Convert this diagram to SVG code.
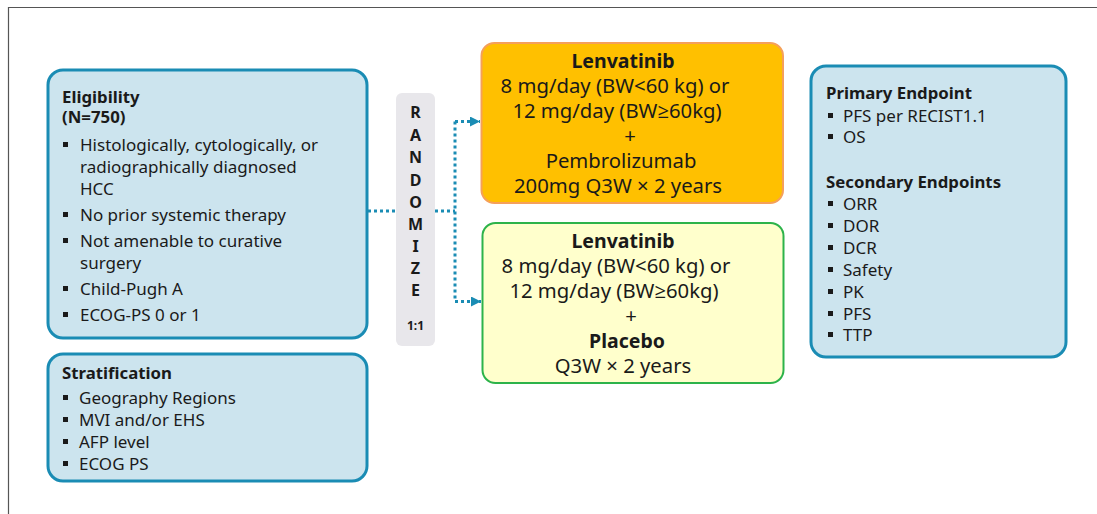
<svg xmlns="http://www.w3.org/2000/svg" width="1097" height="514" viewBox="0 0 1097 514">
<style>
text{font-family:"Noto Sans","Open Sans","Liberation Sans",sans-serif;fill:#1a1a1a}
.blue{fill:#cce4ee;stroke:#1a8cb4;stroke-width:3}
.t{font-size:16.8px;font-weight:bold}
.b{font-size:17px}
.c{font-size:20.3px;text-anchor:middle}
.cb{font-size:19.5px;font-weight:bold;text-anchor:middle}
.r{font-size:16px;font-weight:bold;text-anchor:middle}
.dot{fill:none;stroke:#1a8cb4;stroke-width:3;stroke-dasharray:3 3}
.sq{fill:#1a1a1a}
</style>
<defs>
<marker id="ah" viewBox="0 0 10 10" refX="10" refY="5" markerWidth="10" markerHeight="10" markerUnits="userSpaceOnUse" orient="auto">
<path d="M0,0 L10,5 L0,10 Z" fill="#1a8cb4"/>
</marker>
<g id="bul"><rect x="0" y="-9" width="5" height="5" class="sq"/></g>
</defs>
<rect width="1097" height="514" fill="#fff"/>
<path d="M8.5,514 V7.5 H1097" fill="none" stroke="#555" stroke-width="1.2"/>

<g id="connectors">
<path class="dot" d="M368,211 H396"/>
<path class="dot" d="M435,211 H455"/>
<path class="dot" d="M455,121.5 V301.5"/>
<path class="dot" d="M455,121.5 H480" marker-end="url(#ah)"/>
<path class="dot" d="M455,301.5 H481" marker-end="url(#ah)"/>
</g>

<g id="eligibility">
<rect class="blue" x="48" y="70" width="319" height="268" rx="15"/>
<text class="t" x="62" y="103">Eligibility</text>
<text class="t" x="62" y="123">(N=750)</text>
<use href="#bul" x="63" y="151"/><text class="b" x="80" y="151">Histologically, cytologically, or</text>
<text class="b" x="80" y="173">radiographically diagnosed</text>
<text class="b" x="80" y="195">HCC</text>
<use href="#bul" x="63" y="221"/><text class="b" x="80" y="221">No prior systemic therapy</text>
<use href="#bul" x="63" y="247"/><text class="b" x="80" y="247">Not amenable to curative</text>
<text class="b" x="80" y="269">surgery</text>
<use href="#bul" x="63" y="295"/><text class="b" x="80" y="295">Child-Pugh A</text>
<use href="#bul" x="63" y="321"/><text class="b" x="80" y="321">ECOG-PS 0 or 1</text>
</g>

<g id="stratification">
<rect class="blue" x="48" y="354" width="319" height="127" rx="15"/>
<text class="t" x="62" y="379">Stratification</text>
<use href="#bul" x="63" y="404"/><text class="b" x="79" y="404">Geography Regions</text>
<use href="#bul" x="63" y="426"/><text class="b" x="79" y="426">MVI and/or EHS</text>
<use href="#bul" x="63" y="448"/><text class="b" x="79" y="448">AFP level</text>
<use href="#bul" x="63" y="470"/><text class="b" x="79" y="470">ECOG PS</text>
</g>

<g id="randomize">
<rect x="396" y="93" width="39" height="253" rx="6" fill="#e8e7eb"/>
<text class="r" x="415.5" y="118">R</text>
<text class="r" x="415.5" y="141">A</text>
<text class="r" x="415.5" y="163">N</text>
<text class="r" x="415.5" y="186">D</text>
<text class="r" x="415.5" y="208">O</text>
<text class="r" x="415.5" y="230">M</text>
<text class="r" x="415.5" y="252">I</text>
<text class="r" x="415.5" y="274">Z</text>
<text class="r" x="415.5" y="296">E</text>
<text x="415.5" y="330" style="font-size:12px;font-weight:bold;text-anchor:middle">1:1</text>
</g>

<g id="arm-pembrolizumab">
<rect x="481.5" y="43" width="301.5" height="160" rx="13" fill="#ffc000" stroke="#f5a05a" stroke-width="2"/>
<text class="cb" x="623" y="68">Lenvatinib</text>
<text class="c" x="615" y="93">8 mg/day (BW&lt;60 kg) or</text>
<text class="c" x="617" y="118">12 mg/day (BW≥60kg)</text>
<text class="c" x="630" y="143">+</text>
<text class="c" x="621" y="168">Pembrolizumab</text>
<text class="c" x="618" y="193">200mg Q3W × 2 years</text>
</g>

<g id="arm-placebo">
<rect x="482.5" y="223" width="301" height="160" rx="13" fill="#ffffcc" stroke="#2db34a" stroke-width="2"/>
<text class="cb" x="623" y="248">Lenvatinib</text>
<text class="c" x="616" y="273">8 mg/day (BW&lt;60 kg) or</text>
<text class="c" x="614" y="298">12 mg/day (BW≥60kg)</text>
<text class="c" x="631" y="323">+</text>
<text class="cb" x="627" y="348">Placebo</text>
<text class="c" x="623" y="373">Q3W × 2 years</text>
</g>

<g id="endpoints">
<rect class="blue" x="811" y="66" width="255" height="291" rx="15"/>
<text class="t" x="826" y="99">Primary Endpoint</text>
<use href="#bul" x="828" y="122"/><text class="b" x="843" y="122">PFS per RECIST1.1</text>
<use href="#bul" x="828" y="143"/><text class="b" x="843" y="143">OS</text>
<text class="t" x="826" y="188">Secondary Endpoints</text>
<use href="#bul" x="828" y="210"/><text class="b" x="843" y="210">ORR</text>
<use href="#bul" x="828" y="232"/><text class="b" x="843" y="232">DOR</text>
<use href="#bul" x="828" y="254"/><text class="b" x="843" y="254">DCR</text>
<use href="#bul" x="828" y="276"/><text class="b" x="843" y="276">Safety</text>
<use href="#bul" x="828" y="298"/><text class="b" x="843" y="298">PK</text>
<use href="#bul" x="828" y="320"/><text class="b" x="843" y="320">PFS</text>
<use href="#bul" x="828" y="341"/><text class="b" x="843" y="341">TTP</text>
</g>
</svg>
